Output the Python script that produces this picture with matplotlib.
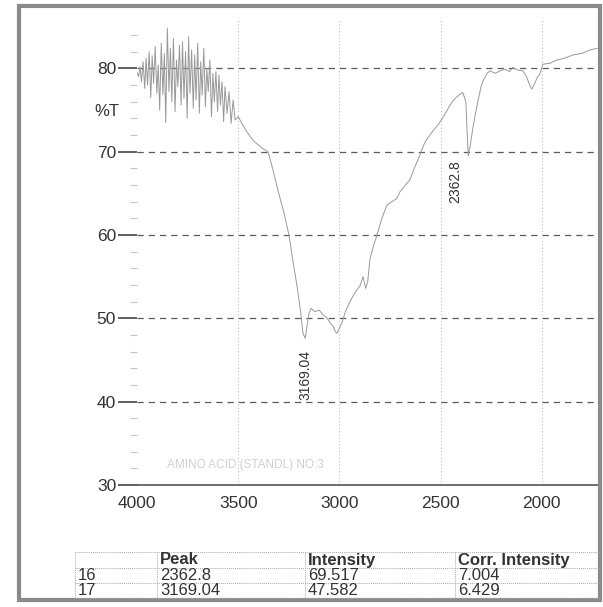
import matplotlib
matplotlib.use("Agg")
import matplotlib.pyplot as plt
from matplotlib.patches import Rectangle
from matplotlib.lines import Line2D
from matplotlib.ticker import MultipleLocator

plt.rcParams["font.family"] = ["Liberation Sans", "DejaVu Sans"]

# spectrum (wavenumber cm-1, %T)
wavenumber = [4000, 3992, 3985, 3978, 3970, 3962, 3955, 3948, 3940, 3932,
              3925, 3918, 3910, 3902, 3895, 3888, 3880, 3872, 3865, 3858,
              3850, 3842, 3835, 3828, 3820, 3812, 3805, 3798, 3790, 3782,
              3775, 3768, 3760, 3752, 3745, 3738, 3730, 3722, 3715, 3708,
              3700, 3692, 3685, 3678, 3670, 3662, 3655, 3648, 3640, 3632,
              3625, 3618, 3610, 3602, 3595, 3588, 3580, 3572, 3565, 3555,
              3545, 3535, 3525, 3515, 3500, 3480, 3460, 3440, 3420, 3400,
              3380, 3353,
              3330, 3310, 3293, 3275, 3259, 3249, 3229, 3210, 3190, 3180,
              3169, 3160, 3150, 3140, 3120, 3100, 3080, 3060, 3046, 3030,
              3020, 3012, 3000, 2987, 2970, 2948, 2925, 2898, 2883, 2870,
              2860, 2849, 2830, 2814, 2790, 2765, 2740, 2716, 2700, 2680,
              2652, 2630, 2602, 2580, 2562, 2537, 2510, 2488, 2460, 2439,
              2410, 2390, 2375, 2368, 2363, 2355, 2340, 2328, 2315, 2300,
              2290, 2270, 2256, 2230, 2206, 2180, 2160, 2142, 2120, 2093,
              2075, 2060, 2049, 2035, 2020, 2010, 1994, 1960, 1925, 1890,
              1846, 1800, 1762, 1725]
transmittance = [79.5, 79.0, 80.2, 78.4, 80.8, 77.6, 81.2, 78.0, 82.0, 76.5,
                 81.5, 78.2, 82.6, 77.0, 80.4, 75.0, 83.0, 76.8, 81.8, 73.5,
                 84.8, 77.2, 82.4, 76.0, 83.6, 74.8, 81.0, 77.8, 82.8, 75.6,
                 83.2, 76.4, 82.0, 74.0, 83.8, 77.0, 82.2, 75.2, 81.6, 76.2,
                 83.0, 74.6, 80.8, 76.8, 82.4, 75.4, 80.0, 77.2, 81.0, 74.2,
                 79.4, 76.0, 79.6, 74.8, 79.2, 75.6, 78.4, 73.6, 77.8, 74.6,
                 77.2, 73.4, 76.2, 73.8, 74.2, 73.3, 72.5, 71.8, 71.2, 70.8,
                 70.4, 70.0,
                 68.0, 66.0, 64.4, 62.8, 61.1, 60.0, 56.8, 54.0, 50.5, 48.2,
                 47.6, 49.0, 50.6, 51.2, 50.8, 51.0, 50.4, 50.0, 49.5, 49.0,
                 48.4, 48.2, 48.8, 49.5, 50.8, 52.0, 53.0, 53.9, 55.0, 53.6,
                 54.4, 57.1, 58.8, 60.0, 62.0, 63.6, 64.0, 64.4, 65.2, 65.8,
                 66.6, 68.0, 69.6, 71.0, 71.7, 72.5, 73.3, 74.1, 75.3, 76.1,
                 76.8, 77.1, 76.0, 72.0, 69.5, 70.5, 72.9, 74.5, 76.1, 77.8,
                 78.5, 79.4, 79.7, 79.4, 79.7, 79.9, 79.6, 80.1, 79.8, 79.7,
                 79.0, 78.0, 77.5, 78.2, 79.0, 79.3, 80.5, 80.6, 81.0, 81.2,
                 81.6, 81.8, 82.2, 82.4]

# peak table
row_ids = ["16", "17"]
peaks = [2362.8, 3169.04]
peak_labels = ["2362.8", "3169.04"]
intensity = ["69.517", "47.582"]
corr_intensity = ["7.004", "6.429"]
table_header = ["", "Peak", "Intensity", "Corr. Intensity"]
# where the rotated peak labels end (bottom, in %T)
peak_label_base = [63.8, 40.2]
peak_label_shift = [-65, 0]

y_ticks = [30, 40, 50, 60, 70, 80]
x_ticks = [4000, 3500, 3000, 2500, 2000]
sample_name = "AMINO ACID (STANDL) NO:3"

W, H = 603, 607
fig = plt.figure(figsize=(W / 100, H / 100), dpi=100)
ax = fig.add_axes([137 / W, 1 - 485 / H, (598 - 137) / W, (485 - 20) / H])

ax.plot(wavenumber, transmittance, color="#999999", lw=0.7)

ax.set_xlim(4000, 1722)
ax.set_ylim(30, 85.8)

# grid
for v in y_ticks[1:]:
    ax.axhline(v, color="#5a5a5a", lw=0.9, ls=(0, (5, 4)), zorder=0)
for v in x_ticks[1:]:
    ax.axvline(v, color="#c0c0c0", lw=0.8, ls=(0, (1, 2)), zorder=0)

for s in ["top", "right", "left"]:
    ax.spines[s].set_visible(False)
ax.spines["bottom"].set_color("#555555")
ax.spines["bottom"].set_linewidth(1.2)

ax.set_yticks(y_ticks)
ax.yaxis.set_minor_locator(MultipleLocator(2))
ax.tick_params(axis="y", which="major", length=14, width=1.2, color="#444444",
               labelsize=12.5, labelcolor="#333333", pad=1)
ax.tick_params(axis="y", which="minor", length=5, width=0.8, color="#c4c4c4")
ax.set_xticks(x_ticks)
ax.set_xticklabels([str(v) for v in x_ticks])
ax.tick_params(axis="x", length=0, labelsize=12.5, labelcolor="#333333", pad=8)

fig.text(119 / W, 1 - 112 / H, "%T", ha="right", va="center",
         fontsize=12, color="#333333")

# peak labels
for p, lab, base, dx in zip(peaks, peak_labels, peak_label_base, peak_label_shift):
    ax.text(p - dx, base, lab, rotation=90, ha="center", va="bottom",
            fontsize=10, color="#333333")

fig.text(245 / W, 1 - 465 / H, sample_name, ha="center", va="center",
         fontsize=8.5, color="#d0d0d0")

# table
col_x = [75, 157, 305, 455, 600]
row_y = [552, 568, 583, 598]
for yy in row_y:
    fig.add_artist(Line2D([col_x[0] / W, col_x[-1] / W], [1 - yy / H, 1 - yy / H],
                          color="#aaaaaa", lw=0.7, ls=(0, (1, 1))))
for xx in col_x[:-1]:
    fig.add_artist(Line2D([xx / W, xx / W], [1 - row_y[0] / H, 1 - row_y[-1] / H],
                          color="#aaaaaa", lw=0.7, ls=(0, (1, 1))))
for j, h in enumerate(table_header):
    fig.text((col_x[j] + 3) / W, 1 - 560 / H, h, ha="left", va="center",
             fontsize=12, fontweight="bold", color="#333333")
rows = list(zip(row_ids, peak_labels, intensity, corr_intensity))
for i, row in enumerate(rows):
    yy = 575.5 + i * 15
    for j, val in enumerate(row):
        fig.text((col_x[j] + 3) / W, 1 - yy / H, val, ha="left", va="center",
                 fontsize=12, color="#333333")

# scanned page frame
fig.add_artist(Rectangle((19 / W, 1 - 600 / H), (600 - 19) / W, (600 - 6) / H,
                         transform=fig.transFigure, fill=False,
                         edgecolor="#8a8a8a", lw=3))

fig.savefig("out.png", dpi=100)
